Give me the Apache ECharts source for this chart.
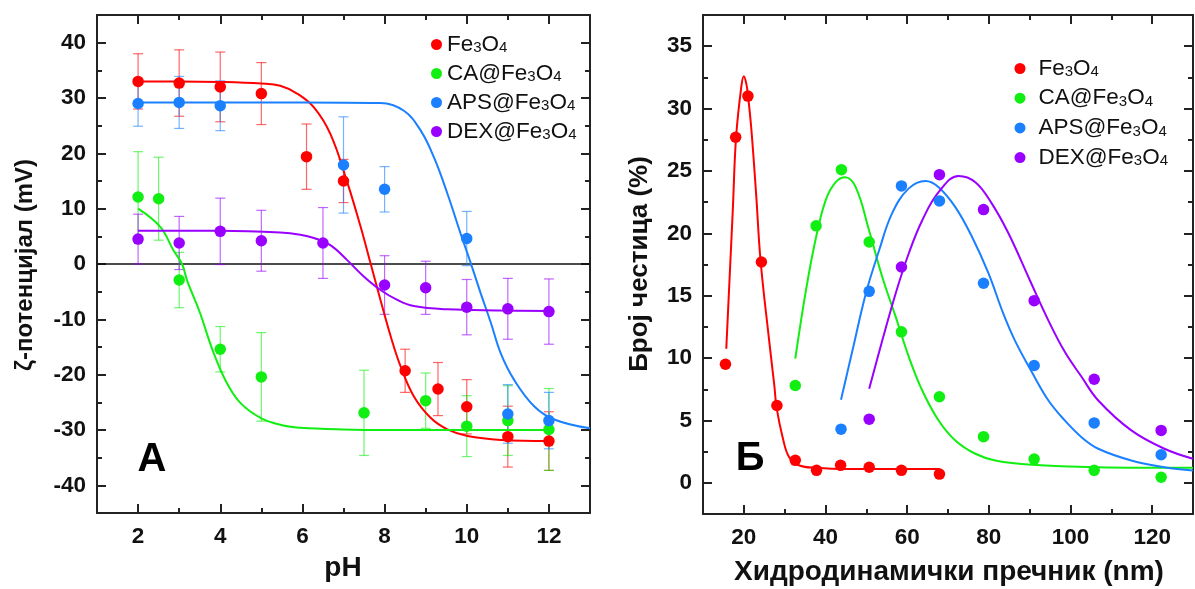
<!DOCTYPE html>
<html><head><meta charset="utf-8">
<script src="https://cdn.jsdelivr.net/npm/echarts@6/dist/echarts.min.js"></script>
<style>html,body{margin:0;padding:0;background:#fff}#c{width:1195px;height:589px}</style>
</head><body><div id="c"></div>
<script>
// ---------- Panel A: zeta potential vs pH ----------
const names = ['Fe3O4', 'CA@Fe3O4', 'APS@Fe3O4', 'DEX@Fe3O4'];
const colors = ['#ff0000', '#11ee11', '#1a80ff', '#9900ff'];

const phFe = [2, 3, 4, 5, 6.1, 7, 8.5, 9.3, 10, 11, 12];
const zetaFe = [33.0, 32.7, 32.0, 30.8, 19.4, 15.0, -19.3, -22.6, -25.8, -31.2, -32.0];
const errFe = [5.0, 6.0, 6.3, 5.6, 5.9, 3.9, 3.9, 4.8, 4.9, 5.5, 5.3];

const phCA = [2, 2.5, 3, 4, 5, 7.5, 9, 10, 11, 12];
const zetaCA = [12.1, 11.8, -2.9, -15.4, -20.4, -26.9, -24.7, -29.3, -28.3, -29.9];
const errCA = [8.2, 7.5, 5.0, 4.1, 8.0, 7.7, 5.0, 5.5, 6.3, 7.4];

const phAPS = [2, 3, 4, 7, 8, 10, 11, 12];
const zetaAPS = [29.0, 29.2, 28.6, 17.9, 13.5, 4.6, -27.1, -28.3];
const errAPS = [4.1, 4.7, 4.5, 8.7, 4.1, 4.9, 5.3, 5.1];

const phDEX = [2, 3, 4, 5, 6.5, 8, 9, 10, 11, 12];
const zetaDEX = [4.5, 3.8, 5.9, 4.2, 3.8, -3.8, -4.3, -7.8, -8.1, -8.6];
const errDEX = [4.5, 4.8, 6.0, 5.5, 6.4, 5.3, 4.8, 5.0, 5.5, 5.9];

// fitted curves
const fitFePhX = [2, 3, 4, 5, 5.46, 5.87, 6.28, 6.68, 7.09, 7.41, 7.66, 7.90, 8.15, 8.39, 8.71, 9.12, 9.53, 10.02, 10.83, 12];
const fitFePhY = [33.0, 33.0, 32.9, 32.6, 32.2, 30.8, 28.3, 23.5, 14.8, 6.9, 0.1, -6.5, -13.1, -18.5, -23.9, -27.8, -29.9, -31.1, -31.8, -32.0];
const fitCAPhX = [2, 2.54, 2.86, 3.07, 3.19, 3.35, 3.51, 3.84, 4.16, 4.49, 4.98, 5.54, 5.95, 7, 8, 10, 12];
const fitCAPhY = [10.0, 6.7, 2.5, 0, -2.9, -5.9, -8.9, -16.1, -21.5, -25.1, -27.8, -29.2, -29.6, -29.9, -30.0, -30.0, -30.0];
const fitAPSPhX = [2, 4, 6, 7.9, 8.47, 8.88, 9.20, 9.53, 9.85, 10.10, 10.34, 10.59, 10.83, 11.15, 11.64, 12.13, 13];
const fitAPSPhY = [29.2, 29.2, 29.2, 29.1, 27.7, 24.1, 19.3, 12.7, 5.5, 0.1, -5.3, -10.7, -16.2, -20.9, -25.7, -28.1, -29.7];
const fitDEXPhX = [2, 4, 5.46, 5.95, 6.28, 6.68, 7.09, 7.50, 7.90, 8.31, 8.71, 9.53, 10.83, 12];
const fitDEXPhY = [6.0, 6.0, 5.7, 5.3, 4.7, 3.4, 0.7, -2.3, -4.7, -6.5, -7.6, -8.2, -8.4, -8.5];

// ---------- Panel Б: size distribution ----------
const dFe = [15.5, 18.0, 21.0, 24.3, 28.1, 32.6, 37.8, 43.7, 50.7, 58.6, 67.9];
const nFe = [9.5, 27.7, 31.0, 17.7, 6.2, 1.8, 1.0, 1.4, 1.25, 1.0, 0.7];
const dCA = [32.6, 37.7, 43.9, 50.7, 58.6, 67.9, 78.7, 91.1, 105.8, 122.2];
const nCA = [7.8, 20.6, 25.1, 19.3, 12.1, 6.9, 3.7, 1.9, 1.0, 0.45];
const dAPS = [43.8, 50.7, 58.6, 67.9, 78.7, 91.1, 105.8, 122.2];
const nAPS = [4.3, 15.35, 23.8, 22.6, 16.0, 9.4, 4.8, 2.25];
const dDEX = [50.7, 58.6, 67.9, 78.7, 91.1, 105.8, 122.2];
const nDEX = [5.1, 17.3, 24.7, 21.9, 14.6, 8.3, 4.2];

const fitFeDX = [15.7, 17.3, 18.1, 19.4, 20.0, 20.6, 21.0, 21.8, 23.0, 24.1, 26.1, 27.5, 28.0, 29.5, 31.1, 33.6, 37.7, 45, 55, 68];
const fitFeDY = [10.75, 21.9, 27.7, 31.8, 32.6, 32.0, 31.1, 28.5, 23.2, 17.8, 11.7, 7.7, 6.07, 3.66, 2.05, 1.39, 1.2, 1.1, 1.1, 1.1];
const fitCADX = [32.6, 35.2, 37.7, 40.1, 42.5, 44.8, 47.4, 50.7, 53.9, 57.2, 60.4, 63.7, 67.7, 71.8, 76.7, 81.6, 90.5, 106.8, 130];
const fitCADY = [9.95, 15.4, 19.7, 22.7, 24.1, 24.5, 23.7, 20.2, 16.5, 13.3, 10.1, 7.4, 5.0, 3.4, 2.33, 1.79, 1.44, 1.25, 1.2];
const fitAPSDX = [43.8, 46.6, 49.9, 53.1, 56.3, 60.4, 64.5, 67.7, 71.8, 75.9, 79.9, 83.5, 86.4, 90.5, 94.6, 98.6, 102.7, 106.8, 114.9, 123.0, 130];
const fitAPSDY = [6.66, 10.6, 15.2, 18.6, 21.6, 23.6, 24.2, 23.7, 22.1, 19.7, 16.8, 13.6, 11.4, 8.9, 6.6, 5.0, 3.66, 2.73, 1.79, 1.25, 0.99];
const fitDEXDX = [50.7, 53.9, 57.2, 60.4, 63.7, 67.7, 72.6, 76.7, 80.7, 84.8, 90.1, 94.6, 98.6, 102.7, 106.8, 114.9, 123.0, 130];
const fitDEXDY = [7.54, 11.4, 15.2, 18.4, 21.05, 23.3, 24.6, 24.1, 22.4, 20.0, 16.2, 13.0, 10.5, 8.5, 6.6, 4.2, 2.73, 1.93];

// tick values
const phMajor = [2, 4, 6, 8, 10, 12];
const phMinor = [3, 5, 7, 9, 11];
const zetaMajor = [-40, -30, -20, -10, 0, 10, 20, 30, 40];
const zetaMinor = [-35, -25, -15, -5, 5, 15, 25, 35];
const dMajor = [20, 40, 60, 80, 100, 120];
const dMinor = [30, 50, 70, 90, 110];
const nMajor = [0, 5, 10, 15, 20, 25, 30, 35];
const nMinor = [2.5, 7.5, 12.5, 17.5, 22.5, 27.5, 32.5];

const FONT = 'Arial, "Liberation Sans", sans-serif';
const AX = '#222';

function zip(a, b) { return a.map((v, i) => [v, b[i]]); }
function zip3(a, b, c) { return a.map((v, i) => [v, b[i], c[i]]); }

function axisPair(gi, pos, min, max, major, minor, labels) {
  const base = {
    type: 'value', gridIndex: gi, position: pos, min: min, max: max,
    splitLine: { show: false }, silent: true
  };
  const maj = Object.assign({}, base, {
    axisLine: { show: true, onZero: false, lineStyle: { color: AX, width: 2 } },
    axisTick: { show: true, inside: true, length: 9, customValues: major, lineStyle: { color: AX, width: 2 } },
    axisLabel: labels ? {
      show: true, customValues: major, margin: (pos === 'left') ? 11 : 12,
      fontSize: 22.5, fontWeight: 'bold', color: '#111', fontFamily: FONT
    } : { show: false }
  });
  const mnr = Object.assign({}, base, {
    axisLine: { show: false, onZero: false },
    axisTick: { show: true, inside: true, length: 5, customValues: minor, lineStyle: { color: AX, width: 2 } },
    axisLabel: { show: false }
  });
  return [maj, mnr];
}

const xAxes = [].concat(
  axisPair(0, 'bottom', 1, 13, phMajor, phMinor, true),
  axisPair(0, 'top', 1, 13, phMajor, phMinor, false),
  axisPair(1, 'bottom', 10, 130, dMajor, dMinor, true),
  axisPair(1, 'top', 10, 130, dMajor, dMinor, false)
);
const yAxes = [].concat(
  axisPair(0, 'left', -45, 45, zetaMajor, zetaMinor, true),
  axisPair(0, 'right', -45, 45, zetaMajor, zetaMinor, false),
  axisPair(1, 'left', -2.5, 37.5, nMajor, nMinor, true),
  axisPair(1, 'right', -2.5, 37.5, nMajor, nMinor, false)
);

const pts = [
  { ph: phFe, z: zetaFe, e: errFe, fx: fitFePhX, fy: fitFePhY, d: dFe, n: nFe, dfx: fitFeDX, dfy: fitFeDY },
  { ph: phCA, z: zetaCA, e: errCA, fx: fitCAPhX, fy: fitCAPhY, d: dCA, n: nCA, dfx: fitCADX, dfy: fitCADY },
  { ph: phAPS, z: zetaAPS, e: errAPS, fx: fitAPSPhX, fy: fitAPSPhY, d: dAPS, n: nAPS, dfx: fitAPSDX, dfy: fitAPSDY },
  { ph: phDEX, z: zetaDEX, e: errDEX, fx: fitDEXPhX, fy: fitDEXPhY, d: dDEX, n: nDEX, dfx: fitDEXDX, dfy: fitDEXDY }
];

const series = [];
pts.forEach((p, i) => {
  const col = colors[i];
  series.push({
    type: 'custom', name: names[i] + ' err', xAxisIndex: 0, yAxisIndex: 0, z: 2, silent: true,
    data: zip3(p.ph, p.z, p.e),
    encode: { x: 0, y: 1 },
    renderItem: function (params, api) {
      const x = api.value(0), y = api.value(1), e = api.value(2);
      const t = api.coord([x, y + e]), b = api.coord([x, y - e]);
      const hw = 5;
      const st = { stroke: col, lineWidth: 1.2, opacity: 0.6 };
      return {
        type: 'group', children: [
          { type: 'line', shape: { x1: t[0], y1: t[1], x2: b[0], y2: b[1] }, style: st },
          { type: 'line', shape: { x1: t[0] - hw, y1: t[1], x2: t[0] + hw, y2: t[1] }, style: st },
          { type: 'line', shape: { x1: b[0] - hw, y1: b[1], x2: b[0] + hw, y2: b[1] }, style: st }
        ]
      };
    }
  });
  const lineA = {
    type: 'line', name: names[i] + ' fit', xAxisIndex: 0, yAxisIndex: 0, z: 3, silent: true,
    data: zip(p.fx, p.fy), smooth: 0.4, showSymbol: false, symbol: 'none',
    lineStyle: { color: col, width: 2 }
  };
  if (i === 0) {
    lineA.markLine = {
      silent: true, symbol: 'none', label: { show: false },
      lineStyle: { color: '#111', width: 1.5, type: 'solid' },
      data: [{ yAxis: 0 }], z: 1
    };
  }
  series.push(lineA);
  series.push({
    type: 'scatter', name: names[i], xAxisIndex: 0, yAxisIndex: 0, z: 4, silent: true,
    data: zip(p.ph, p.z), symbol: 'circle', symbolSize: 11.5,
    itemStyle: { color: col, opacity: 1 }
  });
  series.push({
    type: 'line', name: names[i] + ' fitD', xAxisIndex: 4, yAxisIndex: 4, z: 3, silent: true,
    data: zip(p.dfx, p.dfy), smooth: 0.4, showSymbol: false, symbol: 'none',
    lineStyle: { color: col, width: 2 }
  });
  series.push({
    type: 'scatter', name: names[i], xAxisIndex: 4, yAxisIndex: 4, z: 4, silent: true,
    data: zip(p.d, p.n), symbol: 'circle', symbolSize: 11.5,
    itemStyle: { color: col, opacity: 1 }
  });
});

function legendCfg(left, top, gap, pad) {
  return {
    orient: 'vertical', left: left, top: top, itemGap: gap, itemWidth: 11, itemHeight: 11,
    icon: 'circle', selectedMode: false, data: names,
    formatter: n => n.replace(/(\d)/g, '{s|$1}'),
    textStyle: {
      fontSize: 22.5, fontFamily: FONT, color: '#111', lineHeight: 22, padding: [0, 0, 0, pad],
      rich: { s: { fontSize: 15, fontFamily: FONT, color: '#111', verticalAlign: 'bottom', lineHeight: 18 } }
    }
  };
}

const option = {
  animation: false,
  backgroundColor: '#ffffff',
  grid: [
    { left: 97, top: 15, width: 493, height: 498 },
    { left: 703, top: 15, width: 490, height: 499 }
  ],
  xAxis: xAxes,
  yAxis: yAxes,
  legend: [legendCfg(426, 28, 6, 0), legendCfg(1009.5, 52, 6.7, 8)],
  series: series,
  graphic: [
    { type: 'text', x: 25, y: 265, rotation: Math.PI / 2,
      style: { text: 'ζ-потенцијал (mV)', font: 'bold 24px ' + FONT, fill: '#111', align: 'center', verticalAlign: 'middle' } },
    { type: 'text', x: 343, y: 568,
      style: { text: 'pH', font: 'bold 28px ' + FONT, fill: '#111', align: 'center', verticalAlign: 'middle' } },
    { type: 'text', x: 640, y: 264, rotation: Math.PI / 2,
      style: { text: 'Број честица (%)', font: 'bold 26px ' + FONT, fill: '#111', align: 'center', verticalAlign: 'middle' } },
    { type: 'text', x: 949, y: 572,
      style: { text: 'Хидродинамички пречник (nm)', font: 'bold 28px ' + FONT, fill: '#111', align: 'center', verticalAlign: 'middle' } },
    { type: 'text', x: 152, y: 460,
      style: { text: 'А', font: 'bold 40px ' + FONT, fill: '#000', align: 'center', verticalAlign: 'middle' } },
    { type: 'text', x: 750, y: 459,
      style: { text: 'Б', font: 'bold 40px ' + FONT, fill: '#000', align: 'center', verticalAlign: 'middle' } }
  ]
};

const chart = echarts.init(document.getElementById('c'), null, { renderer: 'canvas' });
chart.setOption(option);
</script></body></html>
